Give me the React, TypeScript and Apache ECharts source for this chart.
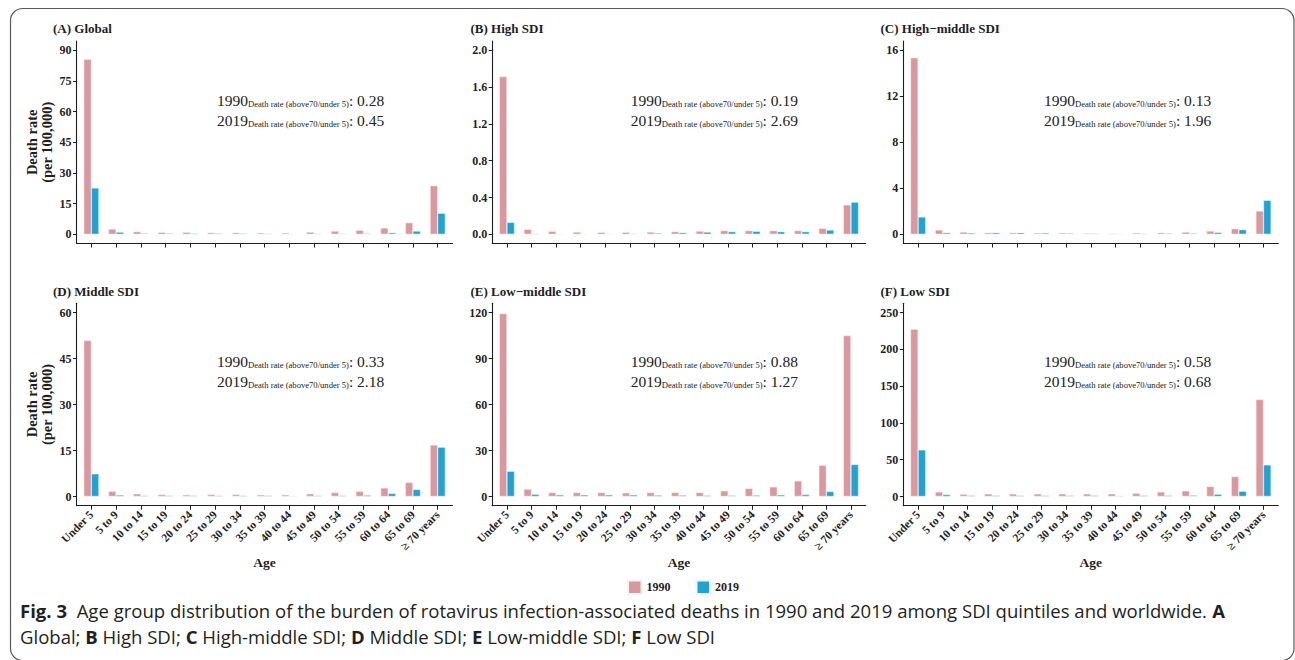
import React, { useEffect, useRef } from 'react';
import * as echarts from 'echarts';

// ---------------- data ----------------
const ageGroups = ['Under 5', '5 to 9', '10 to 14', '15 to 19', '20 to 24', '25 to 29', '30 to 34', '35 to 39', '40 to 44', '45 to 49', '50 to 54', '55 to 59', '60 to 64', '65 to 69', '≥ 70 years'];
const seriesNames = ['1990', '2019'];

const global1990 = [85.6, 2.6, 1.3, 1.0, 1.0, 0.8, 0.8, 0.7, 0.7, 1.1, 1.6, 2.0, 3.1, 5.7, 23.8];
const global2019 = [22.7, 1.1, 0.5, 0.5, 0.5, 0.4, 0.4, 0.3, 0.2, 0.3, 0.3, 0.4, 0.8, 1.6, 10.3];
const high1990 = [1.714, 0.054, 0.033, 0.025, 0.022, 0.022, 0.025, 0.029, 0.036, 0.04, 0.04, 0.04, 0.04, 0.065, 0.32];
const high2019 = [0.13, 0.007, 0.004, 0.004, 0.005, 0.007, 0.013, 0.018, 0.025, 0.029, 0.033, 0.029, 0.029, 0.047, 0.35];
const highMiddle1990 = [15.36, 0.38, 0.2, 0.14, 0.14, 0.12, 0.12, 0.09, 0.06, 0.12, 0.14, 0.2, 0.29, 0.49, 2.03];
const highMiddle2019 = [1.51, 0.14, 0.12, 0.14, 0.14, 0.12, 0.09, 0.06, 0.03, 0.06, 0.09, 0.09, 0.17, 0.41, 2.96];
const middle1990 = [50.9, 1.7, 0.9, 0.65, 0.55, 0.65, 0.65, 0.55, 0.55, 0.9, 1.3, 1.7, 2.8, 4.6, 16.8];
const middle2019 = [7.4, 0.5, 0.3, 0.3, 0.3, 0.3, 0.3, 0.3, 0.2, 0.3, 0.3, 0.45, 1.0, 2.3, 16.1];
const lowMiddle1990 = [119.3, 4.8, 2.6, 2.6, 2.6, 2.4, 2.6, 2.6, 2.6, 3.7, 5.2, 6.3, 10.2, 20.4, 105];
const lowMiddle2019 = [16.5, 1.5, 1.1, 1.1, 1.1, 1.1, 0.9, 0.9, 0.7, 0.7, 0.9, 1.1, 1.3, 3.3, 20.9];
const low1990 = [227.4, 6.3, 3.2, 3.6, 3.6, 3.6, 3.6, 3.6, 3.6, 4.5, 6.3, 7.7, 13.6, 27.2, 131.8];
const low2019 = [63.4, 2.7, 1.4, 1.4, 1.4, 1.4, 1.4, 1.4, 0.9, 1.4, 1.4, 1.8, 3.2, 7.2, 43.0];

const panelTitles = ['(A) Global', '(B) High SDI', '(C) High\u2212middle SDI', '(D) Middle SDI', '(E) Low\u2212middle SDI', '(F) Low SDI'];
const ratio1990 = ['0.28', '0.19', '0.13', '0.33', '0.88', '0.58'];
const ratio2019 = ['0.45', '2.69', '1.96', '2.18', '1.27', '0.68'];

const ticksA = [0, 15, 30, 45, 60, 75, 90];
const ticksB = [0, 0.4, 0.8, 1.2, 1.6, 2.0];
const ticksC = [0, 4, 8, 12, 16];
const ticksD = [0, 15, 30, 45, 60];
const ticksE = [0, 30, 60, 90, 120];
const ticksF = [0, 50, 100, 150, 200, 250];

const ratioLabel = 'Death rate (above70/under 5)';
const yName = 'Death rate\n(per 100,000)';
const xName = 'Age';

// ---------------- styling / layout ----------------
const PINK = '#DB979E';
const BLUE = '#1FA3D4';
const INK = '#1e1e1e';
const SERIF = '"Liberation Serif", "Times New Roman", serif';
const SANS = '"Open Sans", "Noto Sans", sans-serif';

const colLeft = [76.5, 492.2, 903.3];
const colWidth = [376, 373.5, 375];
const rowTop = [41.1, 303.3];
const plotHeight = 202.4;
const annotX = [217, 630.7, 1044];
const annotY = [90.5, 351.5];
const titleX = [53, 470.5, 880.5];
const titleY = [22, 284.5];

export default function App() {
  const ref = useRef<HTMLDivElement>(null);

  useEffect(() => {
    document.body.style.margin = '0';
    const chart = echarts.init(ref.current!, null, { renderer: 'svg' });

    const panels = [
      { d1990: global1990, d2019: global2019, ticks: ticksA },
      { d1990: high1990, d2019: high2019, ticks: ticksB },
      { d1990: highMiddle1990, d2019: highMiddle2019, ticks: ticksC },
      { d1990: middle1990, d2019: middle2019, ticks: ticksD },
      { d1990: lowMiddle1990, d2019: lowMiddle2019, ticks: ticksE },
      { d1990: low1990, d2019: low2019, ticks: ticksF },
    ];

    const catIdx = ageGroups.map((_, i) => i + 1);

    const grid: any[] = [];
    const xAxis: any[] = [];
    const yAxis: any[] = [];
    const series: any[] = [];
    const title: any[] = [];
    const graphic: any[] = [];

    panels.forEach((p, i) => {
      const col = i % 3;
      const row = Math.floor(i / 3);
      const tmax = p.ticks[p.ticks.length - 1];
      const pad = tmax * 0.05;
      const decimals = tmax < 5 ? 1 : 0;

      grid.push({ left: colLeft[col], top: rowTop[row], width: colWidth[col], height: plotHeight, containLabel: false });

      xAxis.push({
        type: 'value',
        gridIndex: i,
        min: 0.4,
        max: ageGroups.length + 0.6,
        splitLine: { show: false },
        axisLine: { show: true, onZero: false, lineStyle: { color: INK, width: 1.1 } },
        axisTick: { show: true, length: 4, customValues: catIdx, lineStyle: { color: INK, width: 1 } },
        axisLabel: {
          show: row === 1,
          customValues: catIdx,
          formatter: (v: number) => ageGroups[Math.round(v) - 1] ?? '',
          rotate: 45,
          margin: 7,
          fontFamily: SERIF,
          fontWeight: 'bold',
          fontSize: 11.5,
          color: INK,
        },
        name: row === 1 ? xName : '',
        nameLocation: 'middle',
        nameGap: 48,
        nameTextStyle: { fontFamily: SERIF, fontWeight: 'bold', fontSize: 13.5, color: INK },
      });

      yAxis.push({
        type: 'value',
        gridIndex: i,
        min: -pad,
        max: tmax + pad,
        splitLine: { show: false },
        axisLine: { show: true, onZero: false, lineStyle: { color: INK, width: 1.1 } },
        axisTick: { show: true, length: 3.5, customValues: p.ticks, lineStyle: { color: INK, width: 1 } },
        axisLabel: {
          customValues: p.ticks,
          formatter: (v: number) => v.toFixed(decimals),
          margin: 5,
          fontFamily: SERIF,
          fontWeight: 'bold',
          fontSize: 12,
          color: INK,
        },
        name: col === 0 ? yName : '',
        nameLocation: 'middle',
        nameRotate: 90,
        nameGap: 22,
        nameTextStyle: { fontFamily: SERIF, fontWeight: 'bold', fontSize: 14.5, lineHeight: 15, color: INK },
      });

      [p.d1990, p.d2019].forEach((d, k) => {
        series.push({
          type: 'bar',
          name: seriesNames[k],
          xAxisIndex: i,
          yAxisIndex: i,
          barWidth: 7.6,
          barGap: '0%',
          data: d.map((v, j) => [j + 1, v]),
          itemStyle: { color: k === 0 ? PINK : BLUE, borderColor: '#f3f3f3', borderWidth: 0.5 },
          silent: true,
        });
      });

      title.push({
        text: panelTitles[i],
        left: titleX[col],
        top: titleY[row],
        padding: 0,
        textStyle: { fontFamily: SERIF, fontWeight: 'bold', fontSize: 13, color: INK },
      });

      graphic.push({
        type: 'text',
        x: annotX[col],
        y: annotY[row],
        silent: true,
        style: {
          text:
            `{a|1990}{b|${ratioLabel}}{a|: ${ratio1990[i]}}\n` +
            `{a|2019}{b|${ratioLabel}}{a|: ${ratio2019[i]}}`,
          verticalAlign: 'top',
          rich: {
            a: { fontFamily: SERIF, fontSize: 15.5, lineHeight: 20, fill: '#222' },
            b: { fontFamily: SERIF, fontSize: 8.6, fill: '#222', verticalAlign: 'bottom', padding: [0, 0, 2, 0] },
          },
        },
      });
    });

    // outer frame
    graphic.push({
      type: 'rect',
      silent: true,
      shape: { x: 10.5, y: 8.5, width: 1283.5, height: 652, r: 12 },
      style: { fill: 'none', stroke: '#5a5a5a', lineWidth: 1.2 },
    });

    // caption
    graphic.push({
      type: 'text',
      x: 20,
      y: 598,
      scaleX: 1.03,
      silent: true,
      style: {
        text:
          '{b|Fig. 3}{r|  Age group distribution of the burden of rotavirus infection-associated deaths in 1990 and 2019 among SDI quintiles and worldwide. }{b|A}\n' +
          '{r|Global; }{b|B}{r| High SDI; }{b|C}{r| High-middle SDI; }{b|D}{r| Middle SDI; }{b|E}{r| Low-middle SDI; }{b|F}{r| Low SDI}',
        verticalAlign: 'top',
        rich: {
          b: { fontFamily: SANS, fontSize: 18, fontWeight: 'bold', lineHeight: 26, fill: '#231f20' },
          r: { fontFamily: SANS, fontSize: 18, lineHeight: 26, fill: '#231f20' },
        },
      },
    });

    chart.setOption({
      animation: false,
      backgroundColor: '#ffffff',
      title,
      grid,
      xAxis,
      yAxis,
      series,
      graphic,
      legend: {
        data: seriesNames,
        left: 627,
        top: 579.5,
        padding: 0,
        icon: 'rect',
        itemWidth: 13.5,
        itemHeight: 13.5,
        itemGap: 25,
        textStyle: { fontFamily: SERIF, fontWeight: 'bold', fontSize: 12, color: INK },
        selectedMode: false,
      },
    });

    return () => chart.dispose();
  }, []);

  return <div ref={ref} style={{ width: 1295, height: 660 }} />;
}
